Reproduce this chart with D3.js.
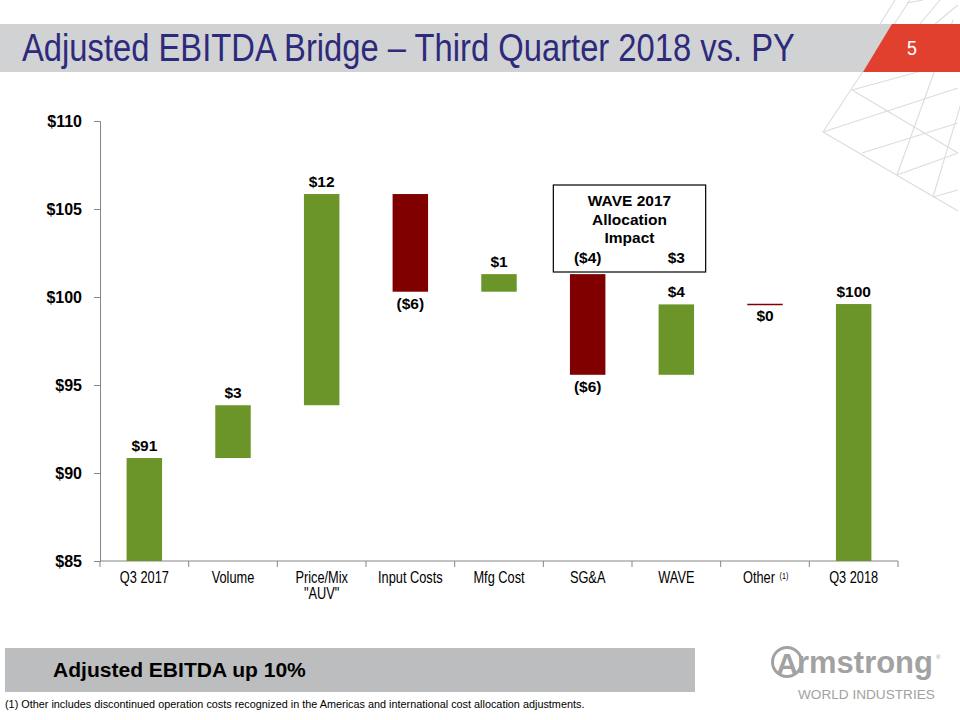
<!DOCTYPE html>
<html><head><meta charset="utf-8">
<script src="https://cdn.jsdelivr.net/npm/d3@7"></script>
<style>
html,body{margin:0;padding:0;background:#fff;}
svg{display:block;}
</style></head>
<body>
<svg id="chart" width="960" height="720"></svg>
<script>
// ---------------- DATA ----------------
const categories = ["Q3 2017", "Volume", "Price/Mix", "Input Costs", "Mfg Cost", "SG&A", "WAVE", "Other", "Q3 2018"];
const categorySubLabels = ["", "", "\"AUV\"", "", "", "", "", "", ""];
const barTypes = ["total", "delta", "delta", "delta", "delta", "delta", "delta", "delta", "total"];
const barValues = [90.85, 3.0, 12.0, -5.55, 1.0, -5.72, 4.0, 0.0, 99.6];
const valueLabels = ["$91", "$3", "$12", "($6)", "$1", "($6)", "$4", "$0", "$100"];
const yTickValues = [85, 90, 95, 100, 105, 110];
const boxTitleLines = ["WAVE 2017", "Allocation", "Impact"];
const boxSplitCategories = ["SG&A", "WAVE"];
const boxSplitLabels = ["($4)", "$3"];
const titleText = "Adjusted EBITDA Bridge \u2013 Third Quarter 2018 vs. PY";
const pageNumber = "5";
const bannerText = "Adjusted EBITDA up 10%";
const footnoteText = "(1) Other includes discontinued operation costs recognized in the Americas and international cost allocation adjustments.";

// ---------------- SETUP ----------------
const svg = d3.select("#chart");
const NARROW = "'Liberation Sans Narrow','Arial Narrow','Liberation Sans',Arial,sans-serif";
const ARIAL = "'Liberation Sans',Arial,Helvetica,sans-serif";
const GREEN = "#6B9528";
const RED = "#800000";

// fit a text horizontally to a target width by scaling (keeps the bbox honest)
function fitText(sel, x0, y0, targetW) {
  const len = sel.node().getComputedTextLength();
  const k = targetW / len;
  sel.attr("x", null).attr("y", null).attr("transform", `translate(${x0},${y0}) scale(${k},1)`);
}

// decorative lattice (top right)
const lattice = [
  [910,0,823,132],[823,132,958,211],[852,90,958,153],[852,90,958,61],
  [823,132,958,88],[862,153,958,123],[897,175,958,153],[933,197,958,190],
  [953,20,897,175],[962,100,933,197],[907,3,923,0],[940,0,920,24],[958,5,935,24],
  [880,24,895,0]
];
svg.append("g").selectAll("line").data(lattice).join("line")
  .attr("x1", d => d[0]).attr("y1", d => d[1]).attr("x2", d => d[2]).attr("y2", d => d[3])
  .attr("stroke", "#dcdcdc").attr("stroke-width", 1.1);

// title band
svg.append("rect").attr("x", 0).attr("y", 24).attr("width", 960).attr("height", 48).attr("fill", "#d1d2d4");
svg.append("polygon").attr("points", "892,24 960,24 960,72 863,72").attr("fill", "#E2402F");
const title = svg.append("text").attr("font-family", NARROW).attr("font-size", 38).attr("fill", "#2E2A7B").text(titleText);
fitText(title, 22, 61, 773);
svg.append("text").attr("transform", "translate(912,55) scale(0.85,1)").attr("text-anchor", "middle").attr("font-family", NARROW)
  .attr("font-size", 21).attr("fill", "#fff").text(pageNumber);

// ---------------- SCALES ----------------
const x = d3.scaleBand().domain(categories).range([100, 898]).padding(0);
const y = d3.scaleLinear().domain([85, 110]).range([561, 121]);
const bw = x.bandwidth();

// compute bar extents
let running = 0;
const bars = categories.map((c, i) => {
  let lo, hi, v = barValues[i];
  if (barTypes[i] === "total") { lo = 85; hi = v; running = v; }
  else { const start = running; running = start + v; lo = Math.min(start, running); hi = Math.max(start, running); }
  return { cat: c, type: barTypes[i], value: v, lo, hi, end: running, label: valueLabels[i] };
});

// ---------------- AXES ----------------
const yAxis = d3.axisLeft(y).tickValues(yTickValues).tickFormat(d => "$" + d).tickSize(6).tickPadding(12);
const gy = svg.append("g").attr("transform", "translate(100,0)").call(yAxis);
gy.select(".domain").attr("stroke", "#868686");
gy.selectAll(".tick line").attr("stroke", "#868686");
gy.selectAll(".tick text").attr("font-family", ARIAL).attr("font-weight", "bold").attr("font-size", 16).attr("fill", "#000");

// x axis line and boundary ticks
const gx = svg.append("g");
gx.append("line").attr("x1", x.range()[0]).attr("x2", x.range()[1]).attr("y1", y(85)).attr("y2", y(85)).attr("stroke", "#868686");
const boundaries = categories.map(c => x(c)).concat([x(categories[categories.length - 1]) + bw]);
gx.selectAll("line.tk").data(boundaries).join("line").attr("class", "tk")
  .attr("x1", d => d).attr("x2", d => d).attr("y1", y(85)).attr("y2", y(85) + 6).attr("stroke", "#868686");

// category labels (condensed look)
const catG = svg.append("g").attr("font-family", NARROW).attr("font-size", 16).attr("fill", "#000").attr("text-anchor", "middle");
const SX = 0.8;
categories.forEach((c, i) => {
  const cx = x(c) + bw / 2 - (c === "Other" ? 6 : 0);
  catG.append("text").attr("transform", `translate(${cx},583) scale(${SX},1)`).text(c);
  if (c === "Other") {
    catG.append("text").attr("transform", `translate(${cx + 25},579) scale(${SX},1)`).attr("font-size", 9).text("(1)");
  }
  if (categorySubLabels[i]) catG.append("text").attr("transform", `translate(${cx},599) scale(${SX},1)`).text(categorySubLabels[i]);
});

// ---------------- BARS ----------------
const barW = bw * 0.4;
const gb = svg.append("g");
bars.forEach(b => {
  const bx = x(b.cat) + (bw - barW) / 2;
  const color = b.type === "total" || b.value > 0 ? GREEN : RED;
  if (b.value === 0 && b.type === "delta") {
    gb.append("line").attr("x1", bx).attr("x2", bx + barW).attr("y1", y(b.end)).attr("y2", y(b.end))
      .attr("stroke", RED).attr("stroke-width", 1.5);
  } else {
    gb.append("rect").attr("x", bx).attr("y", y(b.hi)).attr("width", barW).attr("height", y(b.lo) - y(b.hi)).attr("fill", color);
  }
});

// value labels
const gl = svg.append("g").attr("font-family", ARIAL).attr("font-weight", "bold").attr("font-size", 15.5).attr("fill", "#000").attr("text-anchor", "middle");
bars.forEach(b => {
  const cx = x(b.cat) + bw / 2;
  if (b.type === "total" || b.value > 0) gl.append("text").attr("x", cx).attr("y", y(b.hi) - 7).text(b.label);
  else gl.append("text").attr("x", cx).attr("y", y(b.lo) + 17).text(b.label);
});

// ---------------- WAVE ANNOTATION BOX ----------------
const boxL = x(boxSplitCategories[0]) + 10;
const boxR = x(boxSplitCategories[1]) + bw - 15;
const boxTop = 185, boxBottom = 272;
svg.append("rect").attr("x", boxL).attr("y", boxTop).attr("width", boxR - boxL).attr("height", boxBottom - boxTop)
  .attr("fill", "#fff").attr("stroke", "#000").attr("stroke-width", 1.2);
const gbx = svg.append("g").attr("font-family", ARIAL).attr("font-weight", "bold").attr("font-size", 15.5).attr("text-anchor", "middle");
boxTitleLines.forEach((t, i) => gbx.append("text").attr("x", (boxL + boxR) / 2).attr("y", 206 + i * 18.5).text(t));
boxSplitCategories.forEach((c, i) => gbx.append("text").attr("x", x(c) + bw / 2).attr("y", 263).text(boxSplitLabels[i]));

// ---------------- BOTTOM BANNER ----------------
svg.append("rect").attr("x", 5).attr("y", 648).attr("width", 690).attr("height", 44).attr("fill", "#bcbdbf");
const banner = svg.append("text").attr("font-family", ARIAL).attr("font-weight", "bold").attr("font-size", 20).text(bannerText);
fitText(banner, 53, 677, 253);
const foot = svg.append("text").attr("font-family", NARROW).attr("font-size", 11.5).text(footnoteText);
fitText(foot, 5, 708, 580);

// ---------------- LOGO ----------------
const logo = svg.append("g").attr("fill", "#a2a2a2");
logo.append("circle").attr("cx", 787).attr("cy", 662).attr("r", 14.5).attr("fill", "none").attr("stroke", "#a2a2a2").attr("stroke-width", 3);
logo.append("text").attr("x", 787).attr("y", 674).attr("text-anchor", "middle").attr("font-family", ARIAL)
  .attr("font-weight", "bold").attr("font-size", 30).text("A");
const rm = logo.append("text").attr("font-family", ARIAL).attr("font-weight", "bold").attr("font-size", 32).text("rmstrong");
fitText(rm, 797, 673, 136);
logo.append("text").attr("x", 936).attr("y", 659).attr("font-family", ARIAL).attr("font-size", 6).text("\u00AE");
const wi = logo.append("text").attr("font-family", ARIAL).attr("font-size", 13).text("WORLD INDUSTRIES");
fitText(wi, 798, 699, 137);
</script>
</body></html>
